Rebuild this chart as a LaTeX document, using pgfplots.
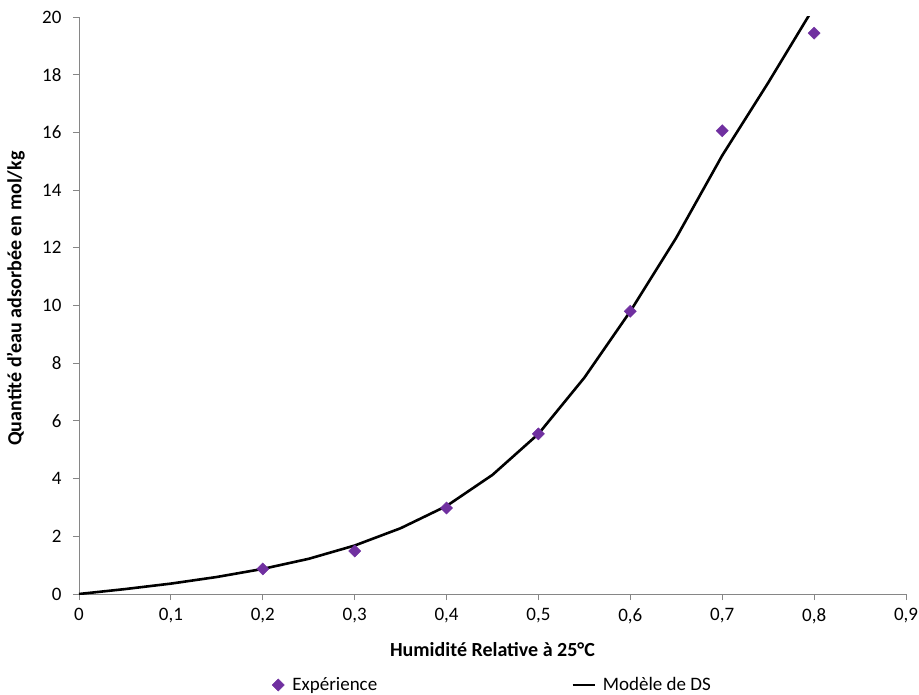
\documentclass[border=0pt]{standalone}
\usepackage{pgfplots}
\pgfplotsset{compat=1.18}
\usepackage{fontspec}
\setmainfont{Carlito}
\definecolor{axgray}{HTML}{868686}
\definecolor{expviolet}{HTML}{7030A0}
\pgfplotsset{mylegline/.style={legend image code/.code={\draw[##1] (0bp,0bp) -- (22bp,0bp);}}}
\newcommand{\chartfont}{\fontsize{19bp}{23bp}\selectfont}
\newcommand{\labelfont}{\fontsize{20bp}{24bp}\selectfont}
\begin{document}
\chartfont
\begin{tikzpicture}
\path[use as bounding box] (-79bp,-101bp) rectangle (840bp,594bp);
\begin{axis}[
  at={(0,0)}, anchor=origin,
  scale only axis,
  width=827bp, height=577bp,
  xmin=0, xmax=0.9, ymin=0, ymax=20,
  xtick={0,0.1,...,0.9},
  ytick={0,2,...,20},
  axis lines=left,
  axis line style={draw=axgray, line width=0.8bp, -},
  tick style={draw=axgray, line width=0.8bp},
  major tick length=6bp,
  tick align=outside,
  /pgf/number format/assume math mode=true,
  /pgf/number format/use comma,
  /pgf/number format/fixed,
  /pgf/number format/precision=1,
  ticklabel style={font=\chartfont, text=black},
  yticklabel style={xshift=-5bp},
  xticklabel style={yshift=-2bp},
  xlabel={\textbf{Humidité Relative à 25°C}},
  ylabel={\textbf{Quantité d'eau adsorbée en mol/kg}},
  xlabel style={at={(axis description cs:0.5,-0.0971)}, anchor=center, font=\labelfont},
  ylabel style={at={(axis description cs:-0.0765,0.512)}, anchor=center, rotate=0, font=\labelfont},
  legend columns=2,
  legend style={at={(axis description cs:0.5,-0.1577)}, anchor=center, draw=none, fill=none,
    font=\chartfont,
    /tikz/every even column/.append style={column sep=192bp},
    legend cell align=left},
  clip=true,
]
\addplot[only marks, mark=square*, mark size=4.3bp, mark options={fill=expviolet, draw=expviolet, rotate=45}] coordinates {
(0.2,0.87) (0.3,1.49) (0.4,2.98) (0.5,5.55) (0.6,9.80) (0.7,16.06) (0.8,19.44)
};
\addlegendentry{\hspace{6bp}Expérience}
\addplot[black, line width=2.6bp, no marks, line join=round, mylegline] coordinates {
(0,0) (0.05,0.17) (0.1,0.36) (0.15,0.59) (0.2,0.87) (0.25,1.22) (0.3,1.68) (0.35,2.28)
(0.4,3.05) (0.45,4.13) (0.5,5.55) (0.55,7.50) (0.6,9.80) (0.65,12.35) (0.7,15.2)
(0.75,17.72) (0.8,20.35)
};
\addlegendentry{\hspace{5bp}Modèle de DS}
\end{axis}
\end{tikzpicture}
\end{document}
